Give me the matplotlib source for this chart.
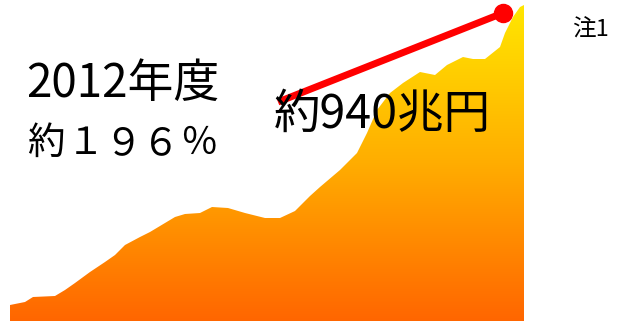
import numpy as np
import matplotlib
matplotlib.use('Agg')
import matplotlib.pyplot as plt
from matplotlib.colors import LinearSegmentedColormap

plt.rcParams['font.family'] = ['Noto Sans CJK JP', 'DejaVu Sans']

# debt trend outline (horizontal position, height)
pos = [10, 25, 33, 55, 65, 75, 90, 105, 115, 125, 140, 150, 165, 175, 185,
       200, 212, 228, 245, 265, 280, 295, 310, 320, 340, 357, 367, 377,
       390, 403, 420, 435, 447, 463, 473, 485, 500, 505, 513, 520, 524]
height = [16, 19, 24, 25, 31, 38, 49, 59, 66, 76, 84, 89, 98, 104, 107,
          108, 114, 113, 108, 103, 103, 110, 125, 134, 151, 168, 188, 211,
          228, 238, 249, 246, 256, 264, 262, 262, 274, 288, 304, 314, 316]

# arrow from the label to the latest value
arrow_start = (278, 219)
arrow_end = (503, 308)

year_label = '2012年度'
ratio_chars = ['約', '１', '９', '６', '％']
ratio_pos = [46, 85, 123, 161, 199]
debt_label = '約940兆円'
note = '注1'

fig = plt.figure(figsize=(6.17, 3.21), dpi=100)
ax = fig.add_axes([0, 0, 1, 1])
ax.set_xlim(0, 617)
ax.set_ylim(0, 321)
ax.axis('off')

# gradient-filled area
cmap = LinearSegmentedColormap.from_list(
    'debt', [(0.0, '#ff6600'), (0.5, '#ffae00'), (1.0, '#ffe800')])
grad = np.linspace(0, 1, 256).reshape(-1, 1)
img = ax.imshow(grad, cmap=cmap, origin='lower', aspect='auto',
                extent=[0, 617, 0, 321], zorder=1)
poly = ax.fill_between(pos, 0, height, color='none', lw=0)
img.set_clip_path(poly.get_paths()[0], transform=ax.transData)

# red arrow line with dot
ax.plot([arrow_start[0], arrow_end[0]], [arrow_start[1], arrow_end[1]],
        color='#ff0000', lw=5, solid_capstyle='butt', zorder=3)
ax.plot(arrow_end[0], arrow_end[1], 'o', color='#ff0000', ms=13, zorder=3)

ax.text(26, 224, year_label, fontsize=33, va='baseline', ha='left', zorder=4)
# full-width characters set on a tighter pitch
for ch, x in zip(ratio_chars, ratio_pos):
    ax.text(x, 167, ch, fontsize=27, va='baseline', ha='center', zorder=4)
ax.text(274, 193, debt_label, fontsize=33.5, va='baseline', ha='left', zorder=4)
ax.text(572, 284, note, fontsize=17, va='baseline', ha='left', zorder=4)

plt.savefig('out.png', dpi=100)
plt.close()
